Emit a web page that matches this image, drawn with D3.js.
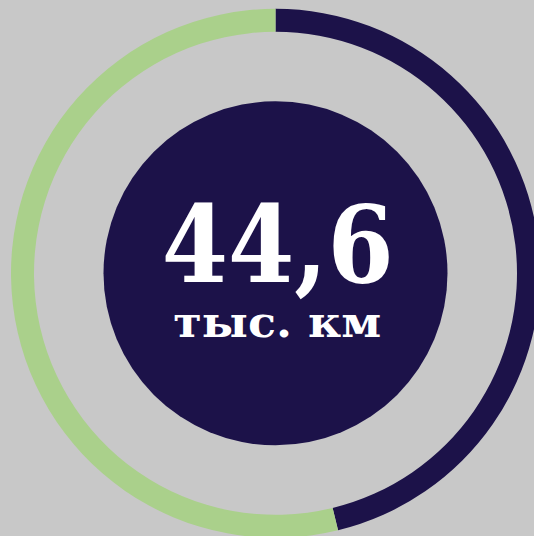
<!DOCTYPE html>
<html>
<head>
<meta charset="utf-8">
<script src="https://cdn.jsdelivr.net/npm/d3@7"></script>
<style>
  html, body { margin: 0; padding: 0; background: #c8c8c8; }
  svg { display: block; }
</style>
</head>
<body>
<div id="chart"></div>
<script>
// data
const segments = ["done", "rest"];
const shares = [46.2, 53.8];
const colors = ["#1c1249", "#aad08b"];
const valueLabel = "44,6";
const unitLabel = "тыс. км";

const width = 534, height = 536;
const cx = 275.5, cy = 273.3;

const svg = d3.select("#chart")
  .append("svg")
  .attr("width", width)
  .attr("height", height);

svg.append("rect")
  .attr("width", width)
  .attr("height", height)
  .attr("fill", "#c8c8c8");

const g = svg.append("g")
  .attr("transform", `translate(${cx},${cy})`);

const pie = d3.pie().sort(null).value(d => d);
const arc = d3.arc().innerRadius(241.5).outerRadius(264.5);

g.selectAll("path")
  .data(pie(shares))
  .join("path")
  .attr("d", arc)
  .attr("fill", (d, i) => colors[i]);

// inner disc
g.append("circle")
  .attr("r", 172)
  .attr("fill", colors[0]);

// big number, squeezed to the width seen in the original
g.append("text")
  .attr("x", -113.8)
  .attr("y", 8.5)
  .attr("textLength", 232)
  .attr("lengthAdjust", "spacingAndGlyphs")
  .style("font-family", "'DejaVu Serif', serif")
  .style("font-weight", "bold")
  .style("font-size", "107px")
  .attr("fill", "#fff")
  .text(valueLabel);

g.append("text")
  .attr("x", -102.2)
  .attr("y", 63.4)
  .attr("textLength", 208)
  .attr("lengthAdjust", "spacingAndGlyphs")
  .style("font-family", "'DejaVu Serif', serif")
  .style("font-weight", "bold")
  .style("font-size", "42px")
  .attr("fill", "#fff")
  .text(unitLabel);
</script>
</body>
</html>
